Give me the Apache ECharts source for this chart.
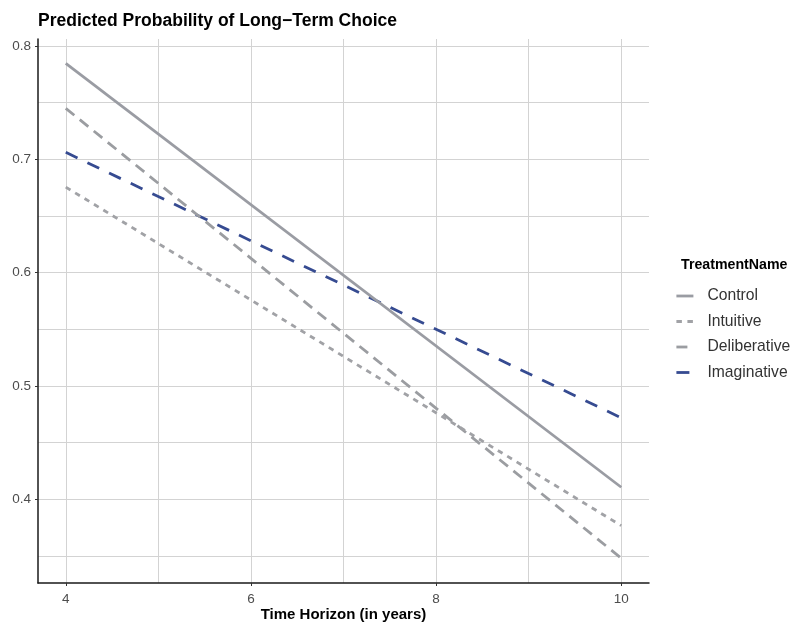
<!DOCTYPE html>
<html>
<head>
<meta charset="utf-8">
<script src="https://cdn.jsdelivr.net/npm/echarts@6/dist/echarts.min.js"></script>
<style>html,body{margin:0;padding:0;background:#fff}#c{width:799px;height:624px}</style>
</head>
<body>
<div id="c"></div>
<script>
const years = [4, 10];
const seriesNames = ['Control', 'Intuitive', 'Deliberative', 'Imaginative'];
const control = [0.7847, 0.4106];
const intuitive = [0.6755, 0.3767];
const deliberative = [0.745, 0.348];
const imaginative = [0.7062, 0.4719];
const xTickLabels = [4, 6, 8, 10];
const xGridValues = [4, 5, 6, 7, 8, 9, 10];
const yTickLabels = [0.4, 0.5, 0.6, 0.7, 0.8];
const yGridValues = [0.35, 0.4, 0.45, 0.5, 0.55, 0.6, 0.65, 0.7, 0.75, 0.8];

const xMin = 3.7, xMax = 10.3, yMin = 0.3261, yMax = 0.8062;
const font = 'Liberation Sans, Arial, sans-serif';
const colors = ['#9a9ca3', '#a1a2a6', '#9b9da1', '#364b91'];
const dashes = ['solid', [5.5, 5.5], [11, 7], [13, 11]];
const valuesList = [control, intuitive, deliberative, imaginative];

function pairs(vals) { return years.map((y, i) => [y, vals[i]]); }

const chart = echarts.init(document.getElementById('c'), null, {renderer: 'canvas'});
chart.setOption({
  animation: false,
  backgroundColor: '#fff',
  title: [
    {text: 'Predicted Probability of Long\u2212Term Choice', left: 33, top: 7,
     textStyle: {fontFamily: font, fontSize: 17.5, fontWeight: 'bold', color: '#000'}},
    {text: 'TreatmentName', left: 676, top: 253,
     textStyle: {fontFamily: font, fontSize: 14.2, fontWeight: 'bold', color: '#000'}}
  ],
  legend: {
    orient: 'vertical', left: 670, top: 283, itemWidth: 17, itemHeight: 10, itemGap: 9.5,
    itemStyle: {opacity: 0},
    lineStyle: {width: 2.8},
    textStyle: {fontFamily: font, fontSize: 15.7, color: '#333', padding: [0, 0, 0, 9]},
    data: seriesNames
  },
  grid: {left: 38, right: 150, top: 39, bottom: 41, containLabel: false, outerBoundsMode: 'none'},
  xAxis: [
    {type: 'value', min: xMin, max: xMax,
     name: 'Time Horizon (in years)', nameLocation: 'middle', nameGap: 24, nameMoveOverlap: false,
     nameTextStyle: {fontFamily: font, fontSize: 15, fontWeight: 'bold', color: '#000'},
     axisLine: {show: true, lineStyle: {color: '#1a1a1a', width: 1.5}},
     axisTick: {show: true, length: 3, customValues: xTickLabels, lineStyle: {color: '#333'}},
     axisLabel: {customValues: xTickLabels, margin: 9, fontFamily: font, fontSize: 13.5, color: '#4d4d4d'},
     splitLine: {show: false}},
    {type: 'value', min: xMin, max: xMax, position: 'top',
     axisLine: {show: false}, axisLabel: {show: false},
     axisTick: {show: false, customValues: xGridValues},
     splitLine: {show: true, lineStyle: {color: '#d3d3d3', width: 1}}}
  ],
  yAxis: [
    {type: 'value', min: yMin, max: yMax,
     axisLine: {show: true, lineStyle: {color: '#1a1a1a', width: 1.5}},
     axisTick: {show: true, length: 3, customValues: yTickLabels, lineStyle: {color: '#333'}},
     axisLabel: {customValues: yTickLabels, margin: 7, fontFamily: font, fontSize: 13.5, color: '#4d4d4d',
                 formatter: v => v.toFixed(1)},
     splitLine: {show: false}},
    {type: 'value', min: yMin, max: yMax, position: 'right',
     axisLine: {show: false}, axisLabel: {show: false},
     axisTick: {show: false, customValues: yGridValues},
     splitLine: {show: true, lineStyle: {color: '#d3d3d3', width: 1}}}
  ],
  series: seriesNames.map((n, i) => ({
    name: n, type: 'line', xAxisIndex: 0, yAxisIndex: 0,
    data: pairs(valuesList[i]), symbol: 'none', z: 3 + (3 - i),
    color: colors[i],
    lineStyle: {color: colors[i], width: 2.8, type: dashes[i]}
  }))
});
</script>
</body>
</html>
